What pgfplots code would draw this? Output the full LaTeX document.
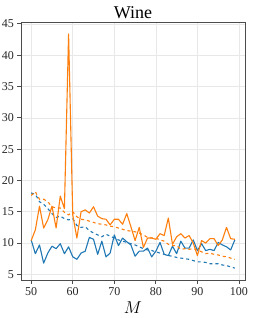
\documentclass[border=0pt]{standalone}
\usepackage{fontspec}
\setmainfont{Liberation Serif}
\usepackage{pgfplots}
\pgfplotsset{compat=1.18}
\definecolor{tblue}{HTML}{1F77B4}
\definecolor{torange}{HTML}{FF7F0E}
\begin{document}
\begin{tikzpicture}
\begin{axis}[
  name=ax,
  scale only axis, width=224bp, height=258bp,
  xmin=47.55, xmax=101.45, ymin=4.1, ymax=45.3,
  xtick={50,60,...,100}, ytick={5,10,...,45},
  grid=major, major grid style={draw=black!9, line width=0.6bp},
  axis line style={draw=black!70, line width=0.8bp},
  tick style={draw=black!70, line width=0.8bp},
  tick align=outside, tick pos=left, major tick length=3.5bp,
  /pgf/number format/assume math mode=true,
  ticklabel style={font=\fontsize{12bp}{13bp}\selectfont, text=black!85},
  title={Wine},
  every axis title/.style={font=\fontsize{18bp}{20bp}\selectfont, at={(0.5,1)}, anchor=base, yshift=3.7bp},
  xlabel={$M$}, xlabel style={font=\fontsize{16bp}{18bp}\selectfont, yshift=0bp},
  every axis plot/.append style={line width=1.1bp, line join=round},
]
\addplot[tblue] coordinates {
(50,10.5)(51,8.3)(52,9.7)(53,6.8)(54,8.4)(55,9.5)(56,9.1)(57,9.9)(58,8.3)(59,9.4)
(60,7.8)(61,7.4)(62,8.4)(63,8.7)(64,10.9)(65,10.6)(66,8.2)(67,10.3)(68,7.8)(69,8.4)
(70,11.3)(71,9.6)(72,10.8)(73,10.2)(74,9.7)(75,7.9)(76,8.7)(77,8.7)(78,9.2)(79,7.8)
(80,8.7)(81,10.1)(82,8.2)(83,8.0)(84,9.5)(85,8.3)(86,10.3)(87,9.2)(88,9.2)(89,10.5)
(90,8.8)(91,9.9)(92,8.8)(93,9.0)(94,8.8)(95,10.1)(96,9.7)(97,9.4)(98,8.9)(99,10.5)};
\addplot[tblue, dashed] coordinates {
(50,18.0)(51,17.8)(52,16.6)(53,16.2)(54,15.5)(55,14.7)(56,14.1)(57,14.3)(58,13.9)(59,13.7)
(60,13.9)(61,12.8)(62,12.5)(63,12.6)(64,12.0)(65,11.6)(66,11.3)(67,11.0)(68,11.4)(69,11.1)
(70,10.8)(71,10.5)(72,10.3)(73,10.1)(74,9.9)(75,9.7)(76,9.4)(77,9.1)(78,8.9)(79,8.8)
(80,8.6)(81,8.4)(82,8.2)(83,8.0)(84,7.9)(85,7.7)(86,7.6)(87,7.5)(88,7.4)(89,7.2)
(90,7.0)(91,7.0)(92,6.9)(93,6.7)(94,6.7)(95,6.7)(96,6.5)(97,6.4)(98,6.2)(99,6.0)};
\addplot[torange] coordinates {
(50,10.4)(51,12.1)(52,15.9)(53,12.4)(54,13.7)(55,15.9)(56,12.4)(57,17.5)(58,15.5)(59,43.4)
(60,14.5)(61,10.8)(62,15.0)(63,15.3)(64,14.8)(65,15.8)(66,14.3)(67,13.9)(68,13.8)(69,12.9)
(70,13.8)(71,13.8)(72,13.0)(73,14.7)(74,12.6)(75,10.4)(76,12.5)(77,9.3)(78,10.8)(79,10.8)
(80,10.6)(81,11.5)(82,11.2)(83,14.0)(84,9.8)(85,11.0)(86,11.5)(87,10.8)(88,11.2)(89,10.0)
(90,8.0)(91,10.4)(92,10.0)(93,10.7)(94,10.7)(95,9.6)(96,10.5)(97,12.5)(98,10.7)(99,10.6)};
\addplot[torange, dashed] coordinates {
(50,17.6)(51,18.2)(52,17.0)(53,17.0)(54,16.6)(55,15.8)(56,15.6)(57,15.6)(58,14.9)(59,14.5)
(60,15.0)(61,14.2)(62,13.8)(63,13.7)(64,13.5)(65,13.3)(66,13.1)(67,13.0)(68,12.9)(69,12.7)
(70,12.6)(71,12.4)(72,12.2)(73,12.0)(74,11.9)(75,11.8)(76,11.6)(77,11.3)(78,10.9)(79,10.8)
(80,10.8)(81,10.5)(82,10.3)(83,9.8)(84,9.6)(85,9.6)(86,9.0)(87,9.1)(88,9.0)(89,9.1)
(90,8.9)(91,8.6)(92,8.3)(93,8.4)(94,8.2)(95,8.1)(96,7.9)(97,7.8)(98,7.6)(99,7.4)};
\end{axis}
\pgfresetboundingbox
\path ([shift={(-21bp,-38bp)}]ax.south west) rectangle ([shift={(8bp,22bp)}]ax.north east);
\end{tikzpicture}
\end{document}
